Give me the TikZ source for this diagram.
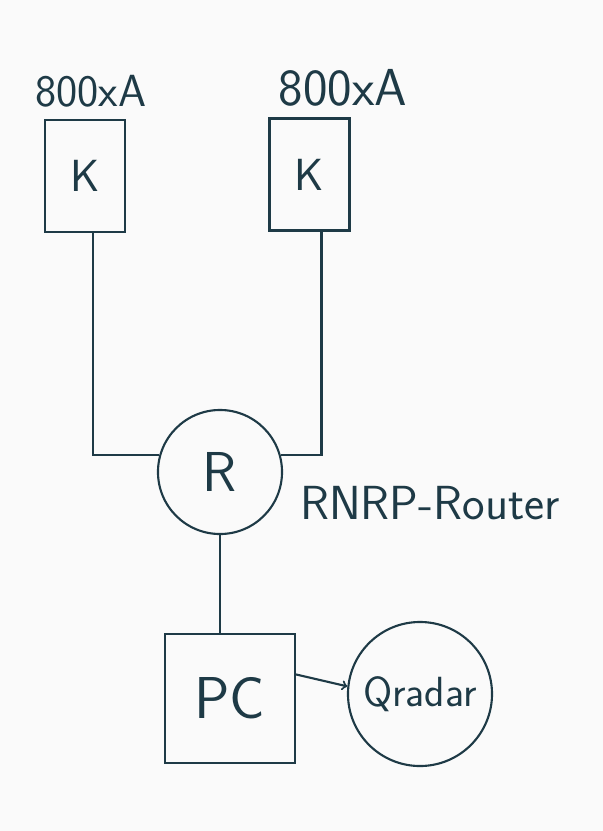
\documentclass[tikz,border=0pt]{standalone}
\definecolor{ink}{RGB}{30,58,70}
\definecolor{paper}{RGB}{250,250,250}
\begin{document}
\begin{tikzpicture}[x=0.025cm, y=-0.025cm, line width=1.5pt,
  box/.style={draw=ink, rectangle, inner sep=0pt},
  ring/.style={draw=ink, circle, inner sep=0pt},
  hand/.style={text=ink, font=\sffamily\fontsize{#1}{#1}\selectfont}]
  % Fond
  \fill[paper] (0,0) rectangle (603,831);
  \useasboundingbox (0,0) rectangle (603,831);

  % Controleurs 800xA
  \node[box, minimum width=2cm, minimum height=2.8cm, hand=32] (k1) at (85,176) {K};
  \node[box, minimum width=2cm, minimum height=2.8cm, hand=32] (k2) at (309.5,174.5) {K};
  \node[hand=32] (lab1) at (91,91) {800xA};
  \node[hand=37] (lab2) at (343,88) {800xA};

  % Routeur
  \node[ring, minimum size=3.1cm, hand=40] (r) at (220,472) {R};
  \node[hand=34] (labr) at (430,503) {RNRP-Router};

  % PC et Qradar
  \node[box, minimum width=3.25cm, minimum height=3.22cm, hand=42] (pc) at (230,698.5) {PC};
  \node[ring, minimum size=3.6cm, hand=30] (qr) at (420,694) {Qradar};

  % Liaisons
  \draw[ink] ([xshift=0.2cm]k1.south) -- ([xshift=0.2cm]k1.south |- r.164) -- (r.164);
  \draw[ink] ([xshift=0.3cm]k2.south) -- ([xshift=0.3cm]k2.south |- r.16) -- (r.16);
  \draw[ink] (r.south) -- (r.south |- pc.north);
  \draw[ink,->] (pc.20) -- (qr.174);
\end{tikzpicture}
\end{document}
